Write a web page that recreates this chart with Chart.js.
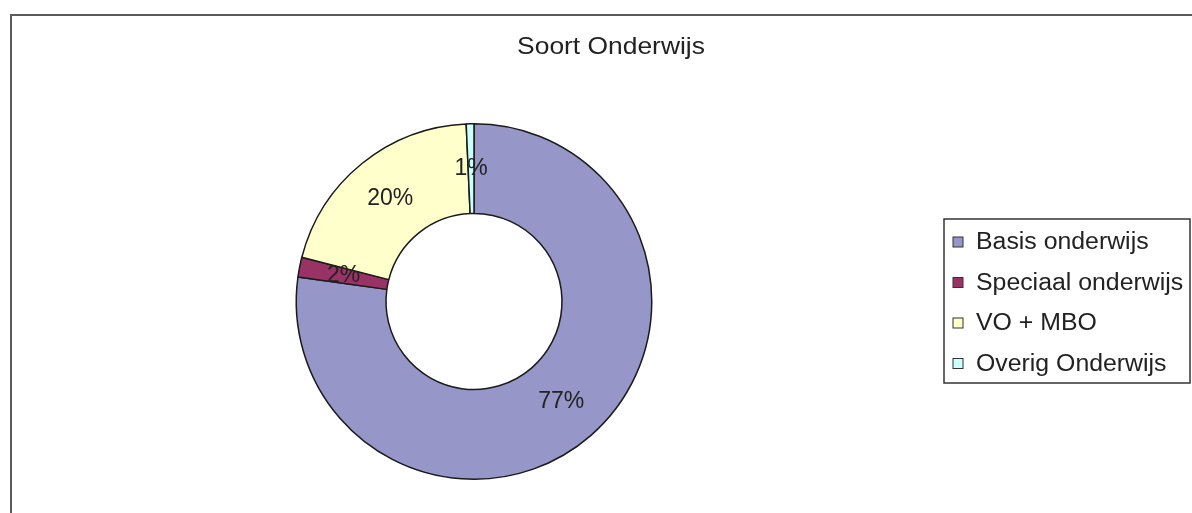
<!DOCTYPE html>
<html>
<head>
<meta charset="utf-8">
<title>Soort Onderwijs</title>
<script src="https://cdn.jsdelivr.net/npm/chart.js@4.4.1/dist/chart.umd.min.js"></script>
<style>
    html, body { margin: 0; padding: 0; background: #fff; }
    #wrap { position: relative; width: 1192px; height: 513px; overflow: hidden; }
    #frame {
        position: absolute; left: 10px; top: 14px; width: 1300px; height: 600px;
        border-left: 2px solid #5a5a5a; border-top: 2px solid #5a5a5a;
    }
    #chart { position: absolute; left: 0; top: 0; }
</style>
</head>
<body>
<div id="wrap">
    <div id="frame"></div>
    <canvas id="chart" width="1192" height="513"></canvas>
</div>
<script>
(function () {
    "use strict";

    // Data
    var chartTitle = "Soort Onderwijs";
    var labels = ["Basis onderwijs", "Speciaal onderwijs", "VO + MBO", "Overig Onderwijs"];
    var values = [77.2, 1.8, 20.3, 0.7];
    var colors = ["#9696c8", "#993366", "#ffffcc", "#ccffff"];

    var font = "'Liberation Sans', Arial, sans-serif";

    // text in the original is a little wider than it is tall
    function wideText(ctx, text, x, y, sx) {
        ctx.save();
        ctx.translate(x, y);
        ctx.scale(sx, 1);
        ctx.fillText(text, 0, 0);
        ctx.restore();
    }

    // Title, slice percentages and boxed legend
    var extras = {
        id: "extras",
        afterDraw: function (chart) {
            var ctx = chart.ctx;
            var meta = chart.getDatasetMeta(0);
            var total = values.reduce(function (a, b) { return a + b; }, 0);

            ctx.save();
            ctx.fillStyle = "#222";
            ctx.textAlign = "center";
            ctx.textBaseline = "middle";

            ctx.font = "24px " + font;
            wideText(ctx, chartTitle, 611, 47, 1.1);

            ctx.font = "23px " + font;
            meta.data.forEach(function (arc, i) {
                var p = arc.tooltipPosition();
                ctx.fillText(Math.round(values[i] / total * 100) + "%", p.x, p.y);
            });

            // Legend
            var box = {x: 944, y: 219, w: 246, h: 164};
            ctx.fillStyle = "#fff";
            ctx.fillRect(box.x, box.y, box.w, box.h);
            ctx.lineWidth = 1.5;
            ctx.strokeStyle = "#333";
            ctx.strokeRect(box.x, box.y, box.w, box.h);

            ctx.textAlign = "left";
            ctx.font = "23px " + font;
            labels.forEach(function (name, i) {
                var cy = 242 + i * 40.5;
                ctx.fillStyle = colors[i];
                ctx.fillRect(953, cy - 5, 10, 10);
                ctx.lineWidth = 1;
                ctx.strokeStyle = "#333";
                ctx.strokeRect(953, cy - 5, 10, 10);
                ctx.fillStyle = "#222";
                wideText(ctx, name, 976, cy + 1, 1.08);
            });
            ctx.restore();
        }
    };

    new Chart(document.getElementById("chart"), {
        type: "doughnut",
        data: {
            labels: labels,
            datasets: [{
                data: values,
                backgroundColor: colors,
                borderColor: "#1a1a1a",
                borderWidth: 1.5
            }]
        },
        options: {
            responsive: false,
            animation: false,
            cutout: "49.5%",
            layout: {
                padding: {left: 295.5, right: 539.5, top: 123, bottom: 33}
            },
            plugins: {
                legend: {display: false},
                title: {display: false},
                tooltip: {enabled: false}
            }
        },
        plugins: [extras]
    });
})();
</script>
</body>
</html>
